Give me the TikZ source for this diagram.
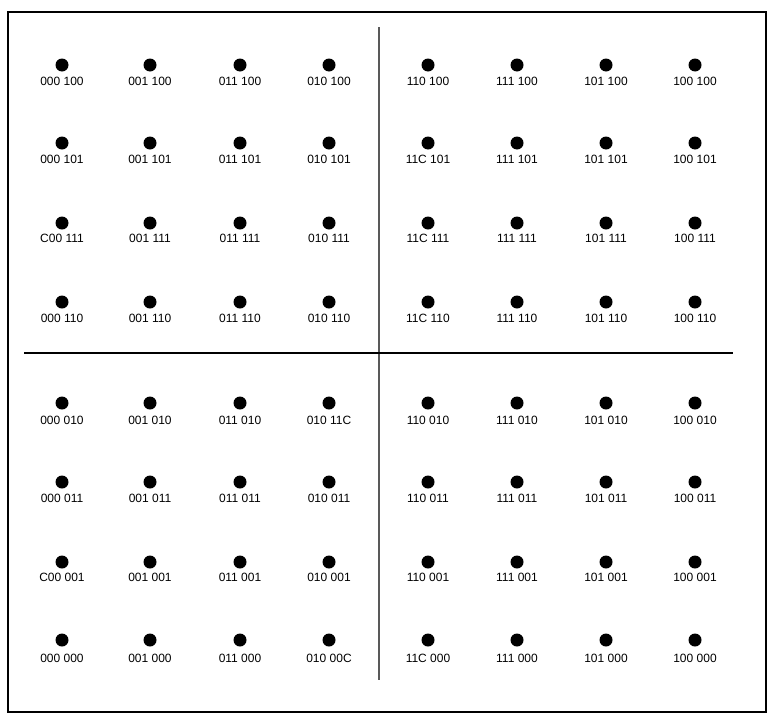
\documentclass[tikz,border=0pt]{standalone}
\usepackage{fontspec}
\setmainfont{Liberation Sans}
\begin{document}
\begin{tikzpicture}[x=1pt,y=-1pt,
  dot/.style={circle,fill=black,inner sep=0pt,minimum size=13pt},
  lab/.style={inner sep=0pt,font=\fontsize{12}{13}\selectfont},
  frame/.style={line width=2pt},
  vaxis/.style={line width=1.6pt,black!65},
  haxis/.style={line width=1.3pt,black}]
\useasboundingbox (0,0) rectangle (770,715);
\draw[frame] (8,12) rectangle (766,712);
\coordinate (vt) at (379,27);
\coordinate (vb) at (379,680);
\coordinate (hl) at (24,353);
\coordinate (hr) at (733,353);
\draw[vaxis] (vt) -- (vb);
\draw[haxis] (hl) -- (hr);
\foreach \yy/\dy/\row [count=\r] in {
  65/16/{000 100,001 100,011 100,010 100,110 100,111 100,101 100,100 100},
  143/16/{000 101,001 101,011 101,010 101,11C 101,111 101,101 101,100 101},
  223/15/{C00 111,001 111,011 111,010 111,11C 111,111 111,101 111,100 111},
  302/16/{000 110,001 110,011 110,010 110,11C 110,111 110,101 110,100 110},
  403/17/{000 010,001 010,011 010,010 11C,110 010,111 010,101 010,100 010},
  482/16/{000 011,001 011,011 011,010 011,110 011,111 011,101 011,100 011},
  562/15/{C00 001,001 001,011 001,010 001,110 001,111 001,101 001,100 001},
  640/18/{000 000,001 000,011 000,010 00C,11C 000,111 000,101 000,100 000}} {
  \foreach \t [count=\c from 0] in \row {
    \pgfmathsetmacro{\xx}{{62,150,240,329,428,517,606,695}[\c]}
    \node[dot] (d\r-\c) at (\xx,\yy) {};
    \node[lab] (l\r-\c) at (\xx,\yy+\dy) {\t};
  }
}
\end{tikzpicture}
\end{document}
